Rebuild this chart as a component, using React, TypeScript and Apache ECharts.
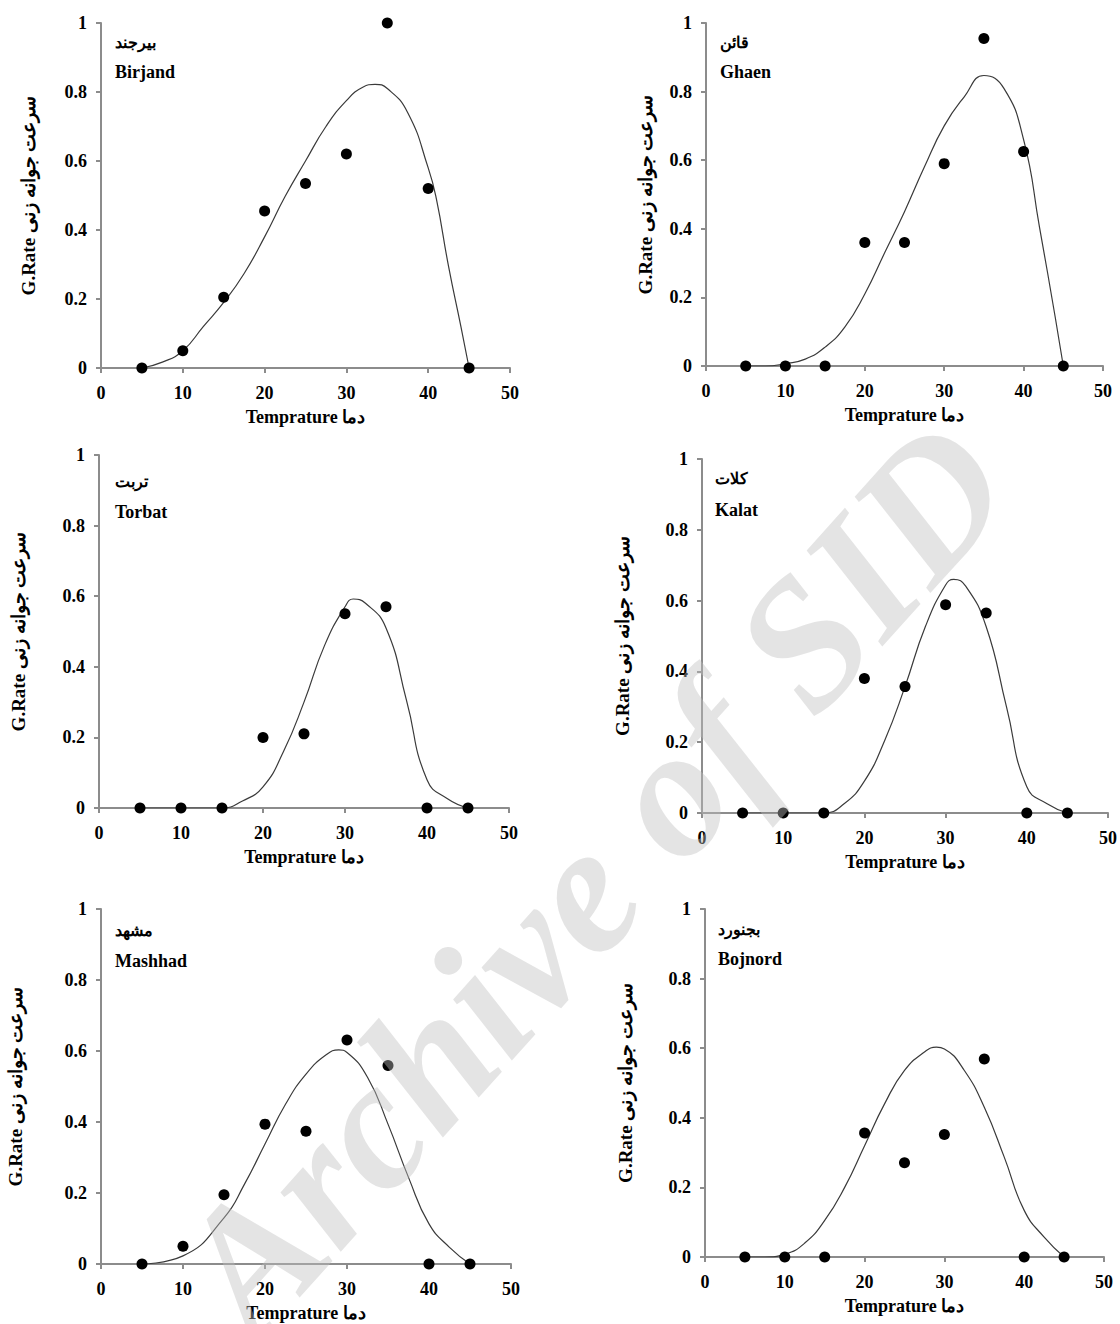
import React, { useEffect, useRef } from "react";
import * as echarts from "echarts";

// ---------- data ----------
const temps = [5, 10, 15, 20, 25, 30, 35, 40, 45];
const xTicks = [0, 10, 20, 30, 40, 50];
const yTicks = [0, 0.2, 0.4, 0.6, 0.8, 1];

const birjandObs = [0, 0.05, 0.205, 0.455, 0.535, 0.62, 1.0, 0.52, 0];
const ghaenObs = [0, 0, 0, 0.36, 0.36, 0.59, 0.955, 0.625, 0];
const torbatObs = [0, 0, 0, 0.2, 0.21, 0.55, 0.57, 0, 0];
const kalatObs = [0, 0, 0, 0.38, 0.357, 0.588, 0.565, 0, 0];
const mashhadObs = [0, 0.05, 0.195, 0.394, 0.374, 0.631, 0.559, 0, 0];
const bojnordObs = [0, 0, 0, 0.356, 0.271, 0.352, 0.569, 0, 0];

const birjandFitX = [5, 7.5, 10, 12.5, 15, 17.5, 20, 22.5, 25, 27.5, 30, 32, 33.5, 35, 37.5, 40, 41, 42.5, 44, 45];
const birjandFitY = [0, 0.017, 0.05, 0.12, 0.19, 0.274, 0.38, 0.497, 0.6, 0.7, 0.775, 0.814, 0.822, 0.81, 0.74, 0.58, 0.49, 0.293, 0.12, 0];

const ghaenFitX = [5, 7.5, 10, 12.5, 15, 17.5, 20, 22.5, 25, 27.5, 30, 32.5, 35, 37.5, 40, 42, 44, 45];
const ghaenFitY = [0, 0, 0.007, 0.02, 0.055, 0.114, 0.21, 0.33, 0.45, 0.58, 0.7, 0.784, 0.847, 0.81, 0.66, 0.405, 0.14, 0];

const torbatFitX = [5, 10, 15, 17.5, 20, 22.5, 25, 27.5, 30, 31, 32.5, 35, 37.5, 40, 42.5, 45];
const torbatFitY = [0, 0, 0, 0.02, 0.06, 0.16, 0.3, 0.46, 0.57, 0.592, 0.58, 0.51, 0.305, 0.08, 0.026, 0];

const kalatFitX = [5, 10, 15, 17.5, 20, 22.5, 25, 27.5, 30, 31, 32.5, 35, 37.5, 40, 42.5, 45];
const kalatFitY = [0, 0, 0, 0.026, 0.09, 0.205, 0.357, 0.526, 0.644, 0.66, 0.64, 0.526, 0.3, 0.074, 0.026, 0];

const mashhadFitX = [5, 10, 15, 17.5, 20, 22.5, 25, 27.5, 29, 30, 32.5, 35, 37.5, 40, 42.5, 45];
const mashhadFitY = [0, 0.023, 0.13, 0.225, 0.338, 0.45, 0.535, 0.59, 0.603, 0.596, 0.526, 0.394, 0.244, 0.113, 0.047, 0];

const bojnordFitX = [5, 7.5, 10, 12.5, 15, 17.5, 20, 22.5, 25, 27.5, 29, 30, 32.5, 35, 37.5, 40, 42.5, 45];
const bojnordFitY = [0, 0, 0.008, 0.04, 0.105, 0.2, 0.32, 0.44, 0.536, 0.589, 0.603, 0.598, 0.536, 0.43, 0.287, 0.134, 0.057, 0];

const panelNamesEn = ["Birjand", "Ghaen", "Torbat", "Kalat", "Mashhad", "Bojnord"];
const panelNamesFa = ["بیرجند", "قائن", "تربت", "کلات", "مشهد", "بجنورد"];
const xTitle = "Temprature دما";
const yTitle = "G.Rate سرعت جوانه زنی";
const watermark = "Archive of SID";

// ---------- layout ----------
const panelObs = [birjandObs, ghaenObs, torbatObs, kalatObs, mashhadObs, bojnordObs];
const panelFitX = [birjandFitX, ghaenFitX, torbatFitX, kalatFitX, mashhadFitX, bojnordFitX];
const panelFitY = [birjandFitY, ghaenFitY, torbatFitY, kalatFitY, mashhadFitY, bojnordFitY];

const grids = [
  { left: 101, top: 23, width: 409, height: 345 },
  { left: 706, top: 23, width: 397, height: 343 },
  { left: 99, top: 455, width: 410, height: 353 },
  { left: 702, top: 459, width: 406, height: 354 },
  { left: 101, top: 909, width: 410, height: 355 },
  { left: 705, top: 909, width: 399, height: 348 },
];
const yTitleX = [28, 645, 18, 622, 15, 625];
const labelPos = [
  { x: 115, faY: 42, enY: 72 },
  { x: 720, faY: 42, enY: 72 },
  { x: 115, faY: 481, enY: 512 },
  { x: 715, faY: 478, enY: 510 },
  { x: 115, faY: 930, enY: 961 },
  { x: 718, faY: 929, enY: 959 },
];

const FONT = "'Liberation Serif', 'Times New Roman', 'DejaVu Serif', serif";
const AXIS_COLOR = "#8c8c8c";

function fmt(v: number) {
  if (v === 0) return "0";
  if (v === 1) return "1";
  return v.toFixed(1);
}

export default function App() {
  const ref = useRef<HTMLDivElement>(null);
  useEffect(() => {
    document.body.style.margin = "0";
    if (!ref.current) return;
    const chart = echarts.init(ref.current, undefined, { renderer: "svg" });

    const xAxis: any[] = [];
    const yAxis: any[] = [];
    const series: any[] = [];
    const graphic: any[] = [];

    grids.forEach((g, i) => {
      xAxis.push({
        gridIndex: i,
        type: "value",
        min: 0,
        max: 50,
        interval: 10,
        name: xTitle,
        nameLocation: "middle",
        nameGap: 40,
        nameTextStyle: { fontFamily: FONT, fontWeight: "bold", fontSize: 18, color: "#000" },
        axisLine: { show: true, onZero: false, lineStyle: { color: AXIS_COLOR, width: 2 } },
        axisTick: { show: true, length: 5, lineStyle: { color: AXIS_COLOR, width: 2 } },
        axisLabel: {
          margin: 16,
          fontFamily: FONT,
          fontWeight: "bold",
          fontSize: 18,
          color: "#000",
          formatter: (v: number) => (xTicks.includes(v) ? String(v) : ""),
        },
        splitLine: { show: false },
      });
      yAxis.push({
        gridIndex: i,
        type: "value",
        min: 0,
        max: 1,
        interval: 0.2,
        axisLine: { show: true, onZero: false, lineStyle: { color: AXIS_COLOR, width: 2 } },
        axisTick: { show: true, length: 5, lineStyle: { color: AXIS_COLOR, width: 2 } },
        axisLabel: {
          margin: 14,
          fontFamily: FONT,
          fontWeight: "bold",
          fontSize: 18,
          color: "#000",
          formatter: (v: number) => {
            const t = yTicks.find((y) => Math.abs(y - v) < 1e-6);
            return t === undefined ? "" : fmt(t);
          },
        },
        splitLine: { show: false },
      });
      series.push({
        type: "line",
        xAxisIndex: i,
        yAxisIndex: i,
        data: panelFitX[i].map((x, k) => [x, panelFitY[i][k]]),
        smooth: 0.5,
        showSymbol: false,
        symbol: "none",
        lineStyle: { color: "#3a3a3a", width: 1.2 },
        z: 2,
      });
      series.push({
        type: "scatter",
        xAxisIndex: i,
        yAxisIndex: i,
        data: temps.map((t, k) => [t, panelObs[i][k]]),
        symbolSize: 11,
        itemStyle: { color: "#000", opacity: 1 },
        clip: false,
        z: 3,
      });
      graphic.push({
        type: "text",
        x: yTitleX[i],
        y: g.top + g.height / 2,
        rotation: Math.PI / 2,
        style: {
          text: yTitle,
          font: `bold 19px ${FONT}`,
          fill: "#000",
          align: "center",
          verticalAlign: "middle",
          textAlign: "center",
          textVerticalAlign: "middle",
        },
      });
      const lp = labelPos[i];
      graphic.push({
        type: "text",
        x: lp.x,
        y: lp.faY,
        style: {
          text: panelNamesFa[i],
          font: `bold 16px ${FONT}`,
          fill: "#000",
          align: "left",
          verticalAlign: "middle",
          textAlign: "left",
          textVerticalAlign: "middle",
        },
      });
      graphic.push({
        type: "text",
        x: lp.x,
        y: lp.enY,
        style: {
          text: panelNamesEn[i],
          font: `bold 18px ${FONT}`,
          fill: "#000",
          align: "left",
          verticalAlign: "middle",
          textAlign: "left",
          textVerticalAlign: "middle",
        },
      });
    });

    graphic.push({
      type: "text",
      x: 592,
      y: 878,
      rotation: 0.84,
      z: 100,
      style: {
        text: watermark,
        font: `italic bold 184px ${FONT}`,
        fill: "rgba(190,190,190,0.42)",
        align: "center",
        verticalAlign: "middle",
        textAlign: "center",
        textVerticalAlign: "middle",
      },
    });

    chart.setOption({
      animation: false,
      backgroundColor: "#fff",
      grid: grids.map((g) => ({ ...g, containLabel: false })),
      xAxis,
      yAxis,
      series,
      graphic,
    });
    return () => chart.dispose();
  }, []);
  return (
    <div
      ref={ref}
      style={{ position: "absolute", left: 0, top: 0, width: 1120, height: 1324 }}
    />
  );
}
